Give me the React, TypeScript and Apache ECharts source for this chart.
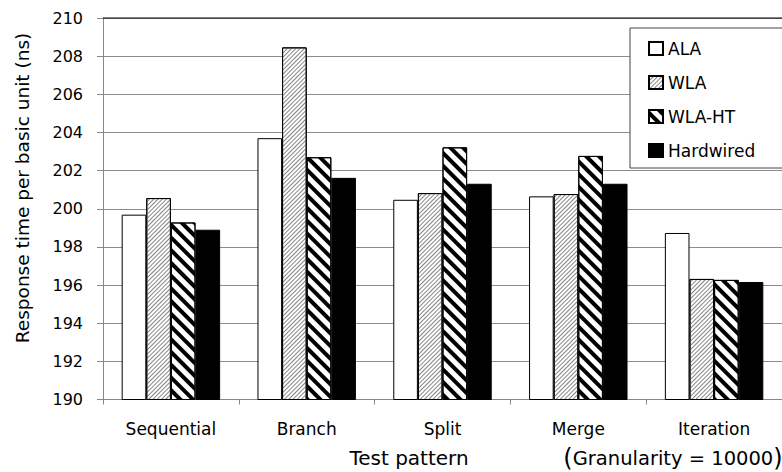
import React, { useEffect, useRef } from "react";
import * as echarts from "echarts";

const categories = ["Sequential", "Branch", "Split", "Merge", "Iteration"];
const seriesNames = ["ALA", "WLA", "WLA-HT", "Hardwired"];
const alaValues = [199.69, 203.7, 200.47, 200.65, 198.73];
const wlaValues = [200.56, 208.46, 200.82, 200.77, 196.32];
const wlaHtValues = [199.28, 202.7, 203.22, 202.77, 196.27];
const hardwiredValues = [198.9, 201.62, 201.31, 201.31, 196.16];
const yTicks = { min: 190, max: 210, interval: 2 };

const FONT = "DejaVu Sans";

export default function App() {
  const ref = useRef<HTMLDivElement>(null);
  useEffect(() => {
    if (!ref.current) return;
    const chart = echarts.init(ref.current, null, { renderer: "svg" });
    const border = { borderColor: "#000", borderWidth: 1 };
    const mk = (name: string, data: number[], itemStyle: any) => ({
      name,
      type: "bar",
      data,
      barGap: "0%",
      barCategoryGap: "27.5%",
      itemStyle,
    });
    chart.setOption({
      animation: false,
      backgroundColor: "#fff",
      textStyle: { fontFamily: FONT },
      grid: { left: 103, right: -4, top: 18, bottom: 72.5 },
      legend: {
        orient: "vertical",
        left: 630,
        top: 28,
        padding: [12, 33, 9, 18],
        itemGap: 17,
        itemWidth: 14,
        itemHeight: 13,
        icon: "rect",
        backgroundColor: "#fff",
        borderColor: "#444",
        borderWidth: 1,
        borderRadius: 0,
        textStyle: { fontFamily: FONT, fontSize: 17, color: "#000" },
        data: seriesNames,
      },
      xAxis: {
        type: "category",
        data: categories,
        axisLine: { lineStyle: { color: "#888", width: 1 } },
        axisTick: { show: true, length: 5, lineStyle: { color: "#888" } },
        axisLabel: { margin: 21, fontFamily: FONT, fontSize: 17, color: "#000" },
        splitLine: { show: false },
      },
      yAxis: {
        type: "value",
        min: yTicks.min,
        max: yTicks.max,
        interval: yTicks.interval,
        axisLine: { show: true, lineStyle: { color: "#888", width: 1 } },
        axisTick: { show: true, length: 6, lineStyle: { color: "#888" } },
        axisLabel: { margin: 20, fontFamily: FONT, fontSize: 16, color: "#000" },
        splitLine: { show: true, lineStyle: { color: "#8c8c8c", width: 1 } },
      },
      series: [
        mk(seriesNames[0], alaValues, { color: "#fff", ...border }),
        mk(seriesNames[1], wlaValues, {
          color: "#fff",
          ...border,
          decal: {
            symbol: "rect",
            symbolSize: 1,
            color: "#858585",
            dashArrayX: [1, 0],
            dashArrayY: [1, 2],
            rotation: -Math.PI / 4,
          },
        }),
        mk(seriesNames[2], wlaHtValues, {
          color: "#fff",
          ...border,
          decal: {
            symbol: "rect",
            symbolSize: 1,
            color: "#000",
            dashArrayX: [1, 0],
            dashArrayY: [4, 4.5],
            rotation: Math.PI / 4,
          },
        }),
        mk(seriesNames[3], hardwiredValues, { color: "#000", ...border }),
      ],
      graphic: [
        {
          type: "line",
          shape: { x1: 103, y1: 18, x2: 782, y2: 18 },
          style: { stroke: "#000", lineWidth: 1 },
          z: 10,
        },
        {
          type: "text",
          x: 22,
          y: 188,
          rotation: Math.PI / 2,
          style: {
            text: "Response time per basic unit (ns)",
            fontFamily: FONT,
            fontSize: 18.5,
            fill: "#000",
            align: "center",
            verticalAlign: "middle",
          },
        },
        {
          type: "text",
          x: 409,
          y: 458,
          style: {
            text: "Test pattern",
            fontFamily: FONT,
            fontSize: 20,
            fill: "#000",
            align: "center",
            verticalAlign: "middle",
          },
        },
        {
          type: "text",
          x: 673,
          y: 458,
          style: {
            text: "{p|(}Granularity = 10000{p|)}",
            fontFamily: FONT,
            fontSize: 19.5,
            fill: "#000",
            align: "center",
            verticalAlign: "middle",
            rich: { p: { fontFamily: FONT, fontSize: 24, fill: "#000" } },
          },
        },
      ],
    });
    return () => chart.dispose();
  }, []);
  return (
    <div
      ref={ref}
      style={{ position: "fixed", left: 0, top: 0, width: 782, height: 472 }}
    />
  );
}
